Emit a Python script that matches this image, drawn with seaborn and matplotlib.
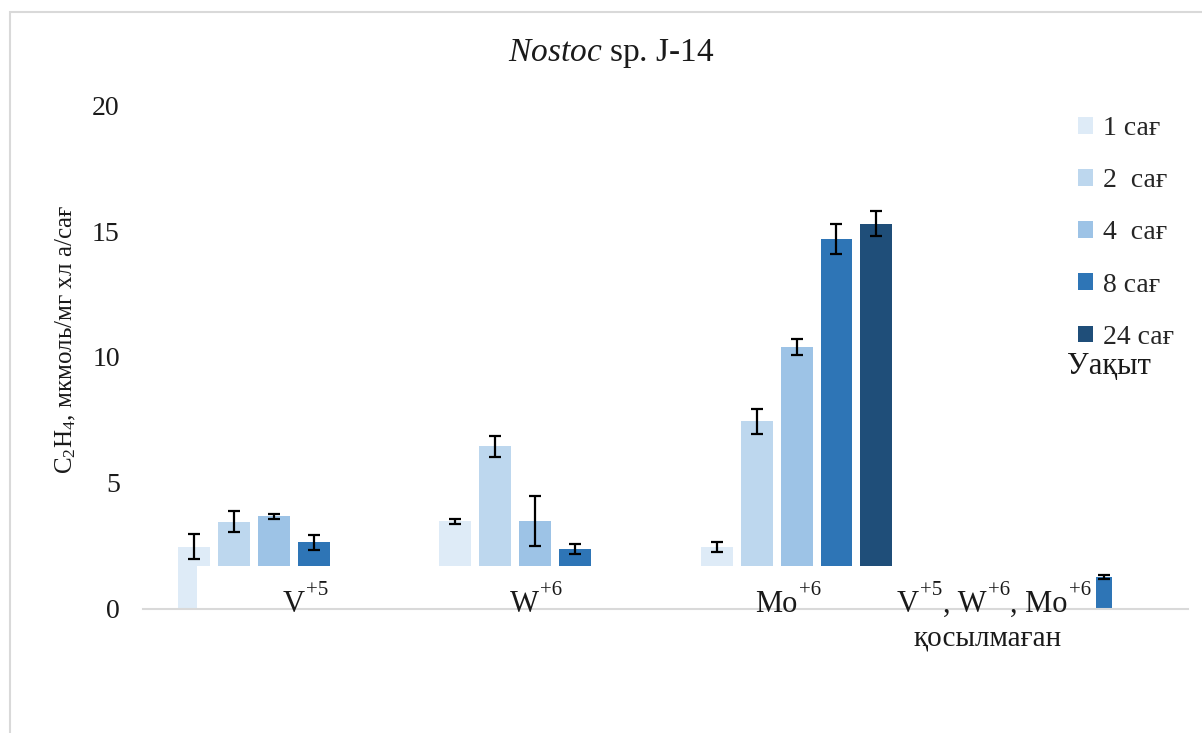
import numpy as np
import pandas as pd
import matplotlib
matplotlib.use("Agg")
import matplotlib.pyplot as plt
import seaborn as sns
from matplotlib.patches import Rectangle

# chart data
groups = ["V", "W", "Mo", "none"]
# label pieces: (text, is_superscript)
group_labels = [
    [("V", False), ("+5", True)],
    [("W", False), ("+6", True)],
    [("Mo", False), ("+6", True)],
    [("V", False), ("+5", True), (", W", False), ("+6", True), (", Mo", False), ("+6", True)],
]
times = ["1 сағ", "2  сағ", "4  сағ", "8 сағ", "24 сағ"]
colors = ["#deebf7", "#bdd7ee", "#9dc3e6", "#2e75b6", "#1f4e79"]

v_vals = [2.45, 3.45, 3.67, 2.63]
v_errs = [0.50, 0.42, 0.10, 0.30]
w_vals = [3.47, 6.45, 3.47, 2.38]
w_errs = [0.10, 0.42, 1.00, 0.20]
mo_vals = [2.45, 7.45, 10.40, 14.70, 15.30]
mo_errs = [0.20, 0.50, 0.32, 0.60, 0.50]
none_times = ["8 сағ"]
none_vals = [1.25]
none_errs = [0.08]

# bars of the metal groups start from this floor in the original figure
floor = 1.68

rows = []
for g, vals, errs, tlist in [("V", v_vals, v_errs, times), ("W", w_vals, w_errs, times),
                             ("Mo", mo_vals, mo_errs, times), ("none", none_vals, none_errs, none_times)]:
    for t, v, e in zip(tlist, vals, errs):
        rows.append({"group": g, "time": t, "value": v, "err": e,
                     "base": 0.0 if g == "none" else floor})
df = pd.DataFrame(rows)

sns.set_theme(style="white")
plt.rcParams["font.family"] = ["Liberation Serif", "DejaVu Serif"]
plt.rcParams["mathtext.fontset"] = "custom"
plt.rcParams["mathtext.rm"] = "Liberation Serif"
plt.rcParams["mathtext.it"] = "Liberation Serif:italic"

TXT = "#1a1a1a"

fig = plt.figure(figsize=(12.02, 7.33), dpi=100)
ax = fig.add_axes([143.4 / 1202, 1 - 608.5 / 733, 1045 / 1202, 503 / 733])

sns.barplot(data=df, x="group", y="value", hue="time", order=groups, hue_order=times,
            palette=colors, saturation=1, errorbar=None, width=0.765, gap=0.2,
            linewidth=0, legend=True, ax=ax)

# move bars onto their base and add error bars
for t, cont in zip(times, ax.containers):
    for bar in cont:
        cx = bar.get_x() + bar.get_width() / 2
        g = groups[int(round(cx))]
        row = df[(df.group == g) & (df.time == t)]
        if row.empty:
            continue
        r = row.iloc[0]
        bar.set_y(r.base)
        bar.set_height(r.value - r.base)
        if g == "none":
            # the lone bar is drawn narrower and shifted in the original
            w = bar.get_width()
            bar.set_x(bar.get_x() + 0.45 * w)
            bar.set_width(0.5 * w)
            cx = bar.get_x() + bar.get_width() / 2
        ax.errorbar(cx, r.value, yerr=r.err, fmt="none", ecolor="black",
                    elinewidth=1.6, capsize=4.5, capthick=1.6, zorder=5)
        if g == "V" and t == times[0]:
            # leftover piece under the first bar, reaching zero
            ax.bar(bar.get_x(), floor, width=0.6 * bar.get_width(), bottom=0,
                   align="edge", color=colors[0], linewidth=0)

ax.set_xlim(-0.5, 3.5)
ax.set_ylim(0, 20)
ax.set_yticks([0, 5, 10, 15, 20])
ax.tick_params(axis="y", labelsize=20, pad=17, length=0, labelcolor=TXT)
ax.set_xticks([])
ax.set_xlabel("")
ax.set_ylabel("")
for s in ["left", "right", "top"]:
    ax.spines[s].set_visible(False)
ax.spines["bottom"].set_color("#d9d9d9")
ax.spines["bottom"].set_linewidth(1.5)


def chain_label(x, y, pieces, size=22, sup_size=15):
    """Write a label from base/superscript pieces, each placed after the previous one."""
    base = ax.text(x, y, pieces[0][0], ha="left", va="bottom", fontsize=size, color=TXT)
    prev = base
    for txt, sup in pieces[1:]:
        if sup:
            prev = ax.annotate(txt, xy=(1, 0), xycoords=(prev, base), xytext=(1, 14),
                               textcoords="offset points", ha="left", va="bottom",
                               fontsize=sup_size, color=TXT)
        else:
            prev = ax.annotate(txt, xy=(1, 0), xycoords=(prev, base), ha="left",
                               va="bottom", fontsize=size, color=TXT)
            base = prev


# category labels, placed as in the original
label_left = [0.034, 0.903, 1.841, 2.384]
for x, pieces in zip(label_left, group_labels):
    chain_label(x, -0.43, pieces)
ax.text(2.733, -1.47, "қосылмаған", ha="center", va="baseline", fontsize=21, color=TXT)

# legend
handles, labels = ax.get_legend_handles_labels()
ax.legend(handles, labels, loc="upper left", bbox_to_anchor=(1078 / 1202, 1 - 116 / 733),
          bbox_transform=fig.transFigure, frameon=False, fontsize=20,
          handlelength=0.55, handleheight=0.55, handletextpad=0.35,
          labelspacing=0.98, borderpad=0, borderaxespad=0)
fig.text(1067 / 1202, 1 - 367 / 733, "Уақыт", ha="left", va="center", fontsize=22,
         color=TXT)

fig.text(611 / 1202, 1 - 54 / 733, r"$\mathit{Nostoc}$ sp. J-14", ha="center",
         va="center", fontsize=24, color=TXT)
fig.text(66 / 1202, 1 - 340 / 733, r"C$_2$H$_4$, мкмоль/мг хл а/сағ", rotation=90,
         ha="center", va="center", fontsize=18, color=TXT)

# light frame around the chart area
fig.add_artist(Rectangle((10 / 1202, -0.1), 1.2, 1.1 - 12 / 733, transform=fig.transFigure,
                         fill=False, edgecolor="#d9d9d9", linewidth=1.5))

fig.savefig("out.png", dpi=100)
